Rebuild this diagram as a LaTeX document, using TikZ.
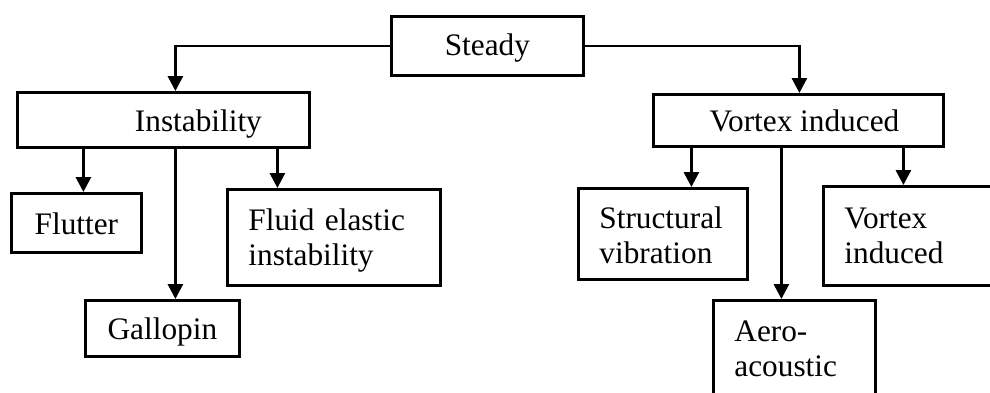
\documentclass[tikz,border=0pt]{standalone}
\usepackage{fontspec}
\setmainfont{Liberation Serif}
\usetikzlibrary{arrows.meta}
\begin{document}
\begin{tikzpicture}[x=1pt,y=-1pt,
  box/.style={draw, line width=2.8pt, rectangle, inner sep=0pt, anchor=north west,
    font=\fontsize{31.3}{35}\selectfont},
  sbox/.style={box, text height=29pt, text depth=6.8pt},
  mbox/.style={box, align=left, inner xsep=21pt, inner ysep=0pt},
  conn/.style={line width=2.8pt, -{Triangle[width=15pt,length=15pt]}}
]
\useasboundingbox (0,0) rectangle (990,392);
\clip (0,0) rectangle (990,392);

\node[sbox, text height=25pt, minimum width=192pt, minimum height=59pt] (steady) at (390,15) {Steady};
\node[sbox, minimum width=292pt, minimum height=55pt] (inst) at (16,91) {\hspace*{70pt}Instability};
\node[sbox, minimum width=290pt, minimum height=52pt] (vmain) at (652,93) {\hspace*{12pt}Vortex induced};

\node[sbox, minimum width=130pt, minimum height=59pt] (flutter) at (10,192) {Flutter};
\node[sbox, minimum width=154pt, minimum height=56pt] (gallopin) at (84,299) {Gallopin};
\node[mbox, text width=171pt, minimum height=96pt] (fluid) at (226,188) {\rule{0pt}{27.5pt}Fluid elastic\\instability};

\node[mbox, text width=127pt, minimum height=91pt] (struct) at (577,187) {\rule{0pt}{24pt}Structural\\vibration};
\node[mbox, text width=120pt, minimum height=96pt] (aero) at (712,299) {Aero-\\acoustic};
\node[mbox, text width=136pt, minimum height=99pt] (vsmall) at (822,185) {Vortex\\induced};

\draw[conn] (steady.west) -| ([xshift=12pt]inst.north);
\draw[conn] (steady.east) -| ([xshift=1pt]vmain.north);

\draw[conn] ([xshift=7pt]flutter.north |- inst.south) -- ([xshift=7pt]flutter.north);
\draw[conn] ([xshift=13pt]gallopin.north |- inst.south) -- ([xshift=13pt]gallopin.north);
\draw[conn] ([xshift=-56.5pt]fluid.north |- inst.south) -- ([xshift=-56.5pt]fluid.north);

\draw[conn] ([xshift=28.5pt]struct.north |- vmain.south) -- ([xshift=28.5pt]struct.north);
\draw[conn] ([xshift=-13pt]aero.north |- vmain.south) -- ([xshift=-13pt]aero.north);
\draw[conn] ([xshift=-9pt]vsmall.north |- vmain.south) -- ([xshift=-9pt]vsmall.north);
\end{tikzpicture}
\end{document}
